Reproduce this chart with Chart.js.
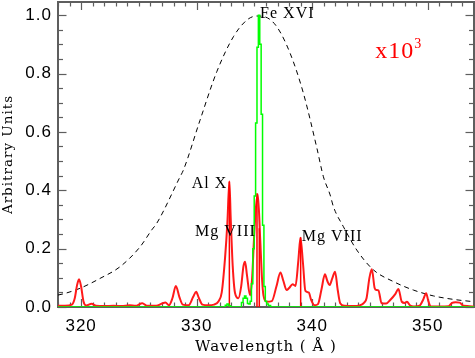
<!DOCTYPE html>
<html><head><meta charset="utf-8">
<script src="https://cdn.jsdelivr.net/npm/chart.js@4"></script>
<style>html,body{margin:0;padding:0;background:#fff}</style>
</head><body>
<canvas id="c" width="475" height="358"></canvas>
<script>
// ---- data ----
const redWave = [318.0,318.6,319.2,319.45,319.65,319.82,320.0,320.2,320.45,320.9,321.3,322.0,322.8,323.5,324.2,324.7,325.3,325.7,326.5,327.0,327.3,327.6,327.9,328.2,328.5,328.8,329.3,329.7,329.95,330.2,330.5,331.0,331.5,331.9,332.17,332.46,332.66,332.83,332.95,333.12,333.32,333.61,333.85,334.05,334.19,334.35,334.62,334.8,334.97,335.15,335.29,335.49,335.65,335.78,336.07,336.5,336.9,337.25,337.5,337.78,338.0,338.3,338.55,338.8,338.98,339.2,339.41,339.7,339.9,340.2,340.5,340.8,341.1,341.3,341.5,341.75,341.98,342.2,342.42,342.8,343.5,344.1,344.5,344.7,344.95,345.16,345.4,345.55,345.73,346.0,346.4,346.75,347.2,347.46,347.75,348.0,348.2,348.45,348.8,349.3,349.6,349.86,350.05,350.25,351.0,351.8,352.1,352.4,352.75,353.1,354.0];
const redFlux = [0.004,0.004,0.008,0.03,0.075,0.095,0.07,0.02,0.005,0.011,0.004,0.003,0.004,0.003,0.006,0.004,0.013,0.004,0.004,0.012,0.015,0.006,0.03,0.072,0.035,0.008,0.006,0.035,0.052,0.03,0.008,0.006,0.008,0.02,0.05,0.17,0.29,0.43,0.30,0.14,0.048,0.03,0.07,0.14,0.155,0.11,0.04,0.10,0.24,0.35,0.386,0.24,0.10,0.04,0.018,0.02,0.07,0.118,0.09,0.058,0.065,0.078,0.072,0.16,0.237,0.15,0.055,0.05,0.025,0.006,0.01,0.06,0.112,0.09,0.075,0.10,0.121,0.06,0.013,0.004,0.003,0.005,0.015,0.03,0.10,0.129,0.065,0.058,0.057,0.013,0.012,0.024,0.045,0.062,0.018,0.014,0.018,0.006,0.002,0.005,0.025,0.047,0.02,0.002,0.002,0.003,0.014,0.016,0.015,0.004,0.002];
const spikeWave = [332.83,335.22,335.42,339.0];
const spikeFlux = [0.43,0.39,0.27,0.239];
const greenWave = [318.0,332.4,332.55,332.7,332.85,333.0,333.8,333.95,334.08,334.2,334.33,334.46,334.57,334.68,334.80,334.92,335.04,335.16,335.28,335.40,335.52,335.64,335.76,335.88,336.0,336.12,336.3,336.5,354.0];
const greenFlux = [0,0,0.006,0.01,0.004,0,0,0.015,0.03,0.038,0.03,0.012,0.01,0.02,0.08,0.2,0.38,0.63,0.89,1.0,0.90,0.66,0.28,0.07,0.02,0.01,0.005,0,0];
const respWave = [318.0,318.46,319.9,321.64,323.37,325.1,326.11,326.55,328.56,328.85,330.29,331.74,333.18,334.34,335.2,335.92,336.94,338.09,339.24,340.4,340.97,341.55,341.84,342.7,343.86,345.3,347.03,348.76,350.49,352.23,354.0];
const respVal = [0.041,0.045,0.064,0.098,0.138,0.206,0.264,0.287,0.446,0.469,0.640,0.806,0.926,0.983,0.997,0.994,0.96,0.869,0.732,0.545,0.446,0.384,0.343,0.275,0.195,0.127,0.087,0.058,0.038,0.026,0.018];
const xTickValues = [320,330,340,350];
const yTickValues = [0.0,0.2,0.4,0.6,0.8,1.0];
const lineLabels = ['Fe XVI','Al X','Mg VIII','Mg VIII'];
const scaleNote = 'x10';
const scaleExp = '3';

// ---- build chart ----
const zip = (xs, ys) => xs.map((v,i)=>({x:v,y:ys[i]}));
const spikePts = [];
spikeWave.forEach((w,i)=>{spikePts.push({x:w,y:0},{x:w,y:spikeFlux[i]},{x:w,y:null});});

const AXIS = '#5e5e5e';
const spacing = {
  id:'spacing',
  beforeInit(chart){ chart.ctx.letterSpacing = '1px'; },
  beforeDraw(chart){ chart.ctx.letterSpacing = '1px'; }
};
const frameTicks = {
  id:'frameTicks',
  beforeDatasetsDraw(chart){
    const {ctx, chartArea:a, scales:{x,y}} = chart;
    ctx.save();
    ctx.strokeStyle = AXIS;
    ctx.lineWidth = 1.2;
    const seg=(x1,y1,x2,y2)=>{ctx.beginPath();ctx.moveTo(x1,y1);ctx.lineTo(x2,y2);ctx.stroke();};
    for (let v=Math.ceil(x.min); v<=x.max; v++){
      const L = (v%10===0)?8:4.5;
      const p = Math.round(x.getPixelForValue(v))+0.5;
      seg(p,a.bottom,p,a.bottom-L); seg(p,a.top,p,a.top+L);
    }
    for (let k=0; k*0.05<=y.max+1e-9; k++){
      const v=k*0.05;
      const L = (k%4===0)?8.5:5;
      const p = Math.round(y.getPixelForValue(v))+0.5;
      seg(a.left,p,a.left+L,p); seg(a.right,p,a.right-L,p);
    }
    ctx.lineWidth = 2;
    ctx.strokeRect(a.left, a.top, a.right-a.left, a.bottom-a.top);
    ctx.restore();
  }
};
const notes = {
  id:'notes',
  afterDatasetsDraw(chart){
    const {ctx, scales:{x,y}} = chart;
    ctx.save();
    ctx.fillStyle = '#000';
    ctx.textBaseline = 'middle';
    ctx.textAlign = 'left';
    ctx.font = '16px "Liberation Serif"';
    const put=(t,wx,wy)=>ctx.fillText(t, x.getPixelForValue(wx), y.getPixelForValue(wy));
    put(lineLabels[0], 335.49, 1.003);
    put(lineLabels[1], 329.58, 0.421);
    put(lineLabels[2], 329.86, 0.257);
    put(lineLabels[3], 339.1, 0.241);
    ctx.fillStyle = '#ff0000';
    ctx.font = '24px "Liberation Serif"';
    const px = x.getPixelForValue(345.45), py = y.getPixelForValue(0.873);
    ctx.fillText(scaleNote, px, py);
    const w = ctx.measureText(scaleNote).width;
    ctx.font = '14px "Liberation Serif"';
    ctx.fillText(scaleExp, px+w, py-8);
    ctx.restore();
  }
};
const zeroPad = s => { s.paddingTop = 0; s.paddingBottom = 0; s.paddingLeft = 0; s.paddingRight = 0; };

new Chart(document.getElementById('c'), {
  type:'line',
  data:{datasets:[
    {label:'green', data:zip(greenWave,greenFlux), borderColor:'#00ff00', borderWidth:1.5, stepped:'middle', pointRadius:0, fill:false, order:0},
    {label:'spikes', data:spikePts, borderColor:'#ff0000', borderWidth:1.5, pointRadius:0, spanGaps:false, fill:false, order:1},
    {label:'red', data:zip(redWave,redFlux), borderColor:'#ff1a1a', borderWidth:2, cubicInterpolationMode:'monotone', pointRadius:0, fill:false, order:2},
    {label:'resp', data:zip(respWave,respVal), borderColor:'#000', borderWidth:1, borderDash:[5,4], cubicInterpolationMode:'monotone', pointRadius:0, fill:false, order:3}
  ]},
  options:{
    responsive:false, animation:false, devicePixelRatio:1,
    layout:{padding:{top:2,right:1,left:0,bottom:0}},
    plugins:{legend:{display:false}, tooltip:{enabled:false}},
    scales:{
      x:{type:'linear', min:318, max:354,
        grid:{display:false, drawTicks:false}, border:{display:false},
        afterBuildTicks:s=>{s.ticks = xTickValues.map(v=>({value:v}));},
        afterFit:s=>{s.height=51; zeroPad(s);},
        ticks:{padding:9, color:'#000', font:{family:'"Liberation Sans"', size:17}, callback:v=>String(v), maxRotation:0},
        title:{display:true, text:'Wavelength ( Å )', color:'#000', font:{family:'"DejaVu Serif"', size:15}, padding:{top:0,bottom:2}}
      },
      y:{type:'linear', min:0, max:1.045,
        grid:{display:false, drawTicks:false}, border:{display:false},
        afterBuildTicks:s=>{s.ticks = yTickValues.map(v=>({value:v}));},
        afterFit:s=>{s.width=58; zeroPad(s);},
        ticks:{padding:6, color:'#000', font:{family:'"Liberation Sans"', size:17}, callback:v=>Number(v).toFixed(1)},
        title:{display:true, text:'Arbitrary Units', color:'#000', font:{family:'"DejaVu Serif"', size:13.5}, padding:{top:0,bottom:0}}
      }
    }
  },
  plugins:[spacing, frameTicks, notes]
});
</script>
</body></html>
